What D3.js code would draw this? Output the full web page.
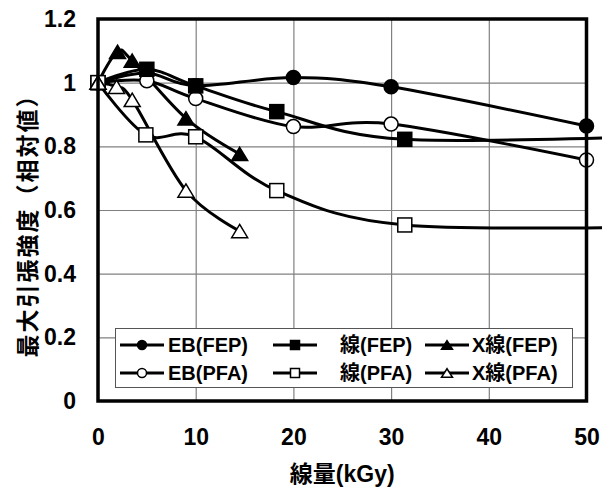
<!DOCTYPE html>
<html lang="ja">
<head>
<meta charset="UTF-8">
<title>最大引張強度</title>
<style>
  body, html { margin: 0; padding: 0; background: #fff; overflow: hidden; }
  text { font-family: "Liberation Sans", Arial, "Noto Sans CJK JP", sans-serif; font-weight: bold; fill: #000; }
  .grid line { stroke: #808080; stroke-width: 1.2px; }
  .grid path { display: none; }
</style>
</head>
<body>
<div id="chart"></div>
<script src="https://cdn.jsdelivr.net/npm/d3@7"></script>
<script>
// dose (kGy) and relative max tensile strength
// (the γ series run past 50 kGy in the original, so they get one point off the axis)
var ebFepX  = [0, 5, 10, 20, 30, 50];
var ebFepY  = [1.0, 1.03, 0.99, 1.016, 0.987, 0.864];
var ebPfaX  = [0, 5, 10, 20, 30, 50];
var ebPfaY  = [1.0, 1.006, 0.95, 0.862, 0.870, 0.757];
var gFepX   = [0, 5, 10, 18.3, 31.4, 60];
var gFepY   = [1.0, 1.042, 0.99, 0.909, 0.822, 0.835];
var gPfaX   = [0, 4.9, 10, 18.3, 31.4, 60];
var gPfaY   = [1.0, 0.836, 0.83, 0.661, 0.553, 0.548];
var xFepX   = [0, 2.0, 3.5, 9.0, 14.5];
var xFepY   = [1.0, 1.097, 1.069, 0.888, 0.776];
var xPfaX   = [0, 1.9, 3.5, 9.0, 14.5];
var xPfaY   = [1.0, 0.987, 0.946, 0.661, 0.534];

var xTicks = [0, 10, 20, 30, 40, 50];
var yTicks = [0, 0.2, 0.4, 0.6, 0.8, 1, 1.2];

var xTitle = "線量(kGy)";
var yTitle = "最大引張強度（相対値）";

// legend rows: label, data, marker, filled
var series = [
  { name: "EB(FEP)", xs: ebFepX, ys: ebFepY, shape: "circle",   filled: true,  col: 0, row: 0 },
  { name: "EB(PFA)", xs: ebPfaX, ys: ebPfaY, shape: "circle",   filled: false, col: 0, row: 1 },
  { name: "線(FEP)", xs: gFepX,  ys: gFepY,  shape: "square",   filled: true,  col: 1, row: 0 },
  { name: "線(PFA)", xs: gPfaX,  ys: gPfaY,  shape: "square",   filled: false, col: 1, row: 1 },
  { name: "X線(FEP)", xs: xFepX, ys: xFepY,  shape: "triangle", filled: true,  col: 2, row: 0 },
  { name: "X線(PFA)", xs: xPfaX, ys: xPfaY,  shape: "triangle", filled: false, col: 2, row: 1 }
];

var W = 602, H = 491;
var pL = 98, pR = 586.5, pT = 19, pB = 401;

var svg = d3.select("#chart").append("svg")
  .attr("width", W).attr("height", H);

var x = d3.scaleLinear().domain([0, 50]).range([pL, pR]);
var y = d3.scaleLinear().domain([0, 1.2]).range([pB, pT]);

// grid
svg.append("g").attr("class", "grid")
  .attr("transform", "translate(0," + pB + ")")
  .call(d3.axisBottom(x).tickValues(xTicks).tickSize(-(pB - pT)).tickFormat(""));
svg.append("g").attr("class", "grid")
  .attr("transform", "translate(" + pL + ",0)")
  .call(d3.axisLeft(y).tickValues(yTicks).tickSize(-(pR - pL)).tickFormat(""));

// tick labels
var xAxis = svg.append("g")
  .attr("transform", "translate(0," + pB + ")")
  .call(d3.axisBottom(x).tickValues(xTicks).tickSize(0).tickPadding(28).tickFormat(d3.format("d")));
var yAxis = svg.append("g")
  .attr("transform", "translate(" + pL + ",0)")
  .call(d3.axisLeft(y).tickValues(yTicks).tickSize(0).tickPadding(22).tickFormat(function(d) { return String(+d.toFixed(1)); }));
[xAxis, yAxis].forEach(function(a) {
  a.select(".domain").remove();
  a.selectAll("text").attr("font-size", "23px").attr("fill", "#000")
    .style("font-family", '"Liberation Sans", Arial, sans-serif');
});

// series lines (Excel-like smoothing)
var line = d3.line()
  .x(function(d) { return x(d[0]); })
  .y(function(d) { return y(d[1]); })
  .curve(d3.curveCardinal.tension(0));

function pts(s) { return s.xs.map(function(v, i) { return [v, s.ys[i]]; }); }

var plot = svg.append("g");
series.forEach(function(s) {
  plot.append("path")
    .attr("d", line(pts(s)))
    .attr("fill", "none")
    .attr("stroke", "#000")
    .attr("stroke-width", 3);
});

function marker(g, shape, filled, size) {
  var m;
  if (shape === "circle") {
    m = g.append("circle").attr("r", size / 2);
  } else if (shape === "square") {
    m = g.append("rect").attr("x", -size / 2).attr("y", -size / 2).attr("width", size).attr("height", size);
  } else {
    var h = size * 0.95;
    m = g.append("path").attr("d", "M0," + (-h / 2) + "L" + (size / 2 + 1) + "," + (h / 2) + "L" + (-size / 2 - 1) + "," + (h / 2) + "Z");
  }
  m.attr("fill", filled ? "#000" : "#fff").attr("stroke", "#000").attr("stroke-width", 1.5);
}

series.forEach(function(s) {
  pts(s).forEach(function(p) {
    var g = plot.append("g").attr("transform", "translate(" + x(p[0]) + "," + y(p[1]) + ")");
    marker(g, s.shape, s.filled, 14);
  });
});

// frame
svg.append("rect")
  .attr("x", pL).attr("y", pT)
  .attr("width", pR - pL).attr("height", pB - pT)
  .attr("fill", "none").attr("stroke", "#000").attr("stroke-width", 3.5);

// legend
var lg = svg.append("g");
lg.append("rect")
  .attr("x", 115.5).attr("y", 328.5).attr("width", 457).attr("height", 59)
  .attr("fill", "#fff").attr("stroke", "#555").attr("stroke-width", 1);
var colLine = [120, 273, 425];
var colText = [168, 340, 472];
var rowY = [345, 373];
series.forEach(function(s) {
  var cy = rowY[s.row], x0 = colLine[s.col];
  lg.append("line")
    .attr("x1", x0).attr("x2", x0 + 44).attr("y1", cy).attr("y2", cy)
    .attr("stroke", "#000").attr("stroke-width", 3);
  var g = lg.append("g").attr("transform", "translate(" + (x0 + 22) + "," + cy + ")");
  marker(g, s.shape, s.filled, 9);
  lg.append("text")
    .attr("x", colText[s.col]).attr("y", cy).attr("dy", "0.36em")
    .attr("font-size", "20px")
    .text(s.name);
});

// axis titles
svg.append("text")
  .attr("x", (pL + pR) / 2).attr("y", 474).attr("dy", "0.36em")
  .attr("text-anchor", "middle").attr("font-size", "23px")
  .text(xTitle);
svg.append("text")
  .attr("transform", "translate(28,220) rotate(-90)")
  .attr("dy", "0.36em")
  .attr("text-anchor", "middle").attr("font-size", "23px")
  .attr("letter-spacing", "2px")
  .text(yTitle);
</script>
</body>
</html>
